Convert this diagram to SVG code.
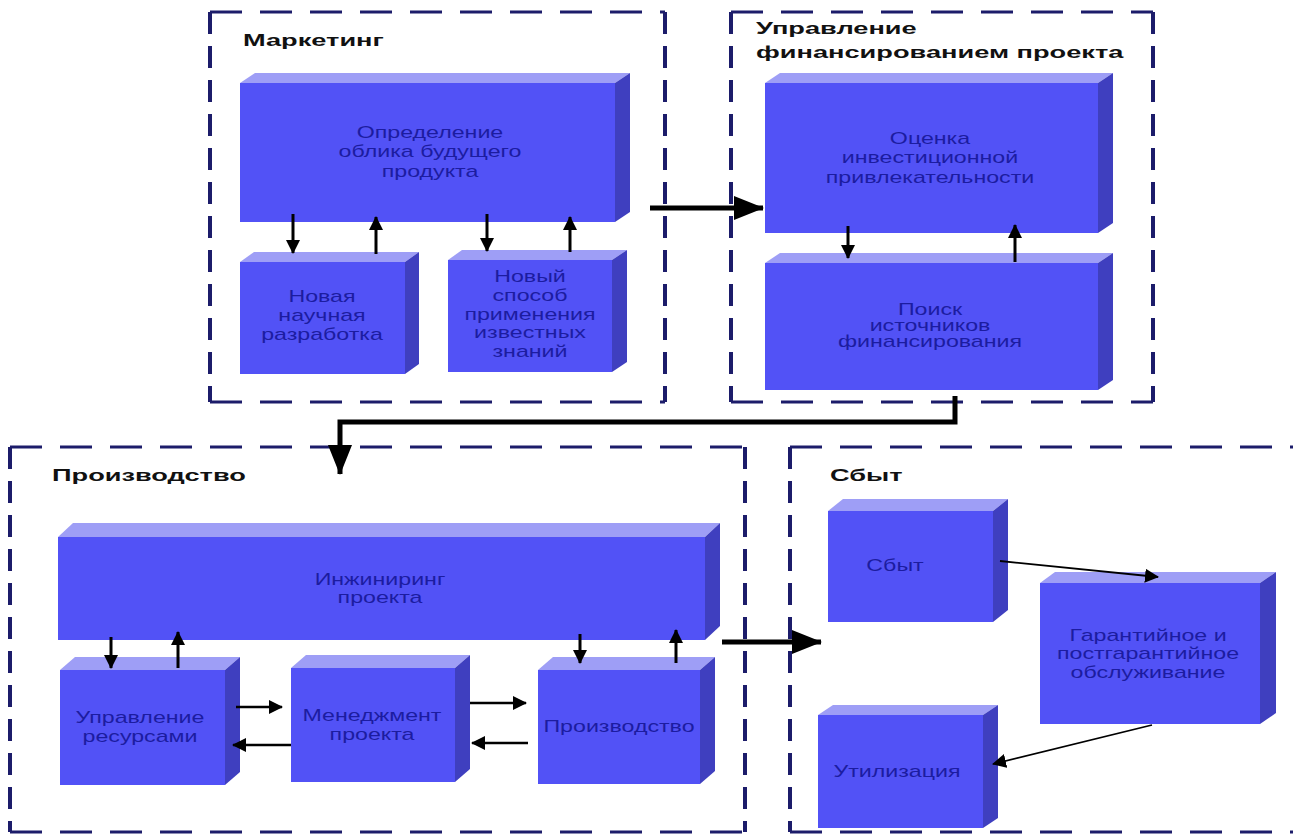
<svg xmlns="http://www.w3.org/2000/svg" width="1293" height="836" viewBox="0 0 1293 836">
<defs>
<marker id="sm" markerUnits="userSpaceOnUse" markerWidth="14" markerHeight="14" viewBox="0 0 14 14" refX="13" refY="7" orient="auto"><path d="M0,0 L14,7 L0,14 Z" fill="#000"/></marker>
<marker id="big" markerUnits="userSpaceOnUse" markerWidth="30" markerHeight="24" viewBox="0 0 30 24" refX="29" refY="12" orient="auto"><path d="M0,0 L30,12 L0,24 Z" fill="#000"/></marker>
<style>
.gh{fill:none;stroke:#1c1c6a;stroke-width:3;stroke-dasharray:32 18}
.gv{fill:none;stroke:#1c1c6a;stroke-width:4;stroke-dasharray:22 12}
.title{font-family:"Liberation Sans",Arial,sans-serif;font-weight:bold;font-size:17px;fill:#111}
.lbl{font-family:"Liberation Sans",Arial,sans-serif;font-size:16px;fill:#1c1ca0;text-anchor:middle}
.front{fill:#5252f6}
.top{fill:#9e9ef6}
.side{fill:#3f3fbf}
.a{stroke:#000;stroke-width:3;fill:none;marker-end:url(#sm)}
.ah{stroke:#000;stroke-width:2.5;fill:none;marker-end:url(#sm)}
.at{stroke:#000;stroke-width:1.8;fill:none;marker-end:url(#sm)}
.A{stroke:#000;stroke-width:5;fill:none;marker-end:url(#big)}
</style>
</defs>
<rect width="1293" height="836" fill="#fff"/>

<g id="grp-marketing">
<line class="gh" x1="210" y1="12" x2="665" y2="12"/>
<line class="gh" x1="210" y1="402" x2="665" y2="402"/>
<line class="gv" x1="210" y1="12" x2="210" y2="402"/>
<line class="gv" x1="665" y1="12" x2="665" y2="402"/>
<text class="title" transform="translate(243,46) scale(1.6,1)">Маркетинг</text>
</g>
<g id="grp-finance">
<line class="gh" x1="731" y1="12" x2="1153" y2="12"/>
<line class="gh" x1="731" y1="402" x2="1153" y2="402"/>
<line class="gv" x1="731" y1="12" x2="731" y2="402"/>
<line class="gv" x1="1153" y1="12" x2="1153" y2="402"/>
<text class="title" transform="translate(756,34) scale(1.6,1)">Управление</text>
<text class="title" transform="translate(756,58) scale(1.6,1)">финансированием проекта</text>
</g>
<g id="grp-production">
<line class="gh" x1="10" y1="447" x2="745" y2="447"/>
<line class="gh" x1="10" y1="832" x2="745" y2="832"/>
<line class="gv" x1="10" y1="447" x2="10" y2="832"/>
<line class="gv" x1="745" y1="447" x2="745" y2="832"/>
<text class="title" transform="translate(52,481) scale(1.6,1)">Производство</text>
</g>
<g id="grp-sales">
<line class="gh" x1="790" y1="447" x2="1293" y2="447"/>
<line class="gh" x1="790" y1="832" x2="1293" y2="832"/>
<line class="gv" x1="790" y1="447" x2="790" y2="832"/>
<text class="title" transform="translate(830,481) scale(1.6,1)">Сбыт</text>
</g>

<g id="n-opredelenie">
<polygon class="top" points="240,83 255,73 630,73 615,83"/>
<polygon class="side" points="615,83 630,73 630,212 615,222"/>
<rect class="front" x="240" y="83" width="375" height="139"/>
<text class="lbl" transform="translate(430,0) scale(1.45,1)"><tspan x="0" y="138">Определение</tspan><tspan x="0" y="157">облика будущего</tspan><tspan x="0" y="177">продукта</tspan></text>
</g>
<g id="n-novaya">
<polygon class="top" points="240,262 254,252 419,252 405,262"/>
<polygon class="side" points="405,262 419,252 419,364 405,374"/>
<rect class="front" x="240" y="262" width="165" height="112"/>
<text class="lbl" transform="translate(322,0) scale(1.45,1)"><tspan x="0" y="302">Новая</tspan><tspan x="0" y="321">научная</tspan><tspan x="0" y="340">разработка</tspan></text>
</g>
<g id="n-novyi">
<polygon class="top" points="448,260 462,250 627,250 612,260"/>
<polygon class="side" points="612,260 627,250 627,362 612,372"/>
<rect class="front" x="448" y="260" width="164" height="112"/>
<text class="lbl" transform="translate(530,0) scale(1.45,1)"><tspan x="0" y="282">Новый</tspan><tspan x="0" y="301">способ</tspan><tspan x="0" y="320">применения</tspan><tspan x="0" y="338">известных</tspan><tspan x="0" y="357">знаний</tspan></text>
</g>
<g id="n-ocenka">
<polygon class="top" points="765,83 780,73 1113,73 1098,83"/>
<polygon class="side" points="1098,83 1113,73 1113,223 1098,233"/>
<rect class="front" x="765" y="83" width="333" height="150"/>
<text class="lbl" transform="translate(930,0) scale(1.45,1)"><tspan x="0" y="144">Оценка</tspan><tspan x="0" y="163">инвестиционной</tspan><tspan x="0" y="183">привлекательности</tspan></text>
</g>
<g id="n-poisk">
<polygon class="top" points="765,263 780,253 1113,253 1098,263"/>
<polygon class="side" points="1098,263 1113,253 1113,380 1098,390"/>
<rect class="front" x="765" y="263" width="333" height="127"/>
<text class="lbl" transform="translate(930,0) scale(1.45,1)"><tspan x="0" y="315">Поиск</tspan><tspan x="0" y="331">источников</tspan><tspan x="0" y="347">финансирования</tspan></text>
</g>
<g id="n-inzhiniring">
<polygon class="top" points="58,537 73,523 720,523 705,537"/>
<polygon class="side" points="705,537 720,523 720,626 705,640"/>
<rect class="front" x="58" y="537" width="647" height="103"/>
<text class="lbl" transform="translate(380,0) scale(1.45,1)"><tspan x="0" y="585">Инжиниринг</tspan><tspan x="0" y="603">проекта</tspan></text>
</g>
<g id="n-upr-resursami">
<polygon class="top" points="60,670 75,657 240,657 225,670"/>
<polygon class="side" points="225,670 240,657 240,772 225,785"/>
<rect class="front" x="60" y="670" width="165" height="115"/>
<text class="lbl" transform="translate(140,0) scale(1.45,1)"><tspan x="0" y="723">Управление</tspan><tspan x="0" y="742">ресурсами</tspan></text>
</g>
<g id="n-menedzhment">
<polygon class="top" points="291,668 306,655 470,655 455,668"/>
<polygon class="side" points="455,668 470,655 470,769 455,782"/>
<rect class="front" x="291" y="668" width="164" height="114"/>
<text class="lbl" transform="translate(372,0) scale(1.45,1)"><tspan x="0" y="721">Менеджмент</tspan><tspan x="0" y="740">проекта</tspan></text>
</g>
<g id="n-proizvodstvo">
<polygon class="top" points="538,670 553,657 715,657 700,670"/>
<polygon class="side" points="700,670 715,657 715,771 700,784"/>
<rect class="front" x="538" y="670" width="162" height="114"/>
<text class="lbl" transform="translate(619,0) scale(1.45,1)" x="0" y="732">Производство</text>
</g>
<g id="n-sbyt">
<polygon class="top" points="828,511 843,499 1008,499 993,511"/>
<polygon class="side" points="993,511 1008,499 1008,610 993,622"/>
<rect class="front" x="828" y="511" width="165" height="111"/>
<text class="lbl" transform="translate(895,0) scale(1.45,1)" x="0" y="571">Сбыт</text>
</g>
<g id="n-garantiinoe">
<polygon class="top" points="1040,583 1055,572 1276,572 1260,583"/>
<polygon class="side" points="1260,583 1276,572 1276,713 1260,724"/>
<rect class="front" x="1040" y="583" width="220" height="141"/>
<text class="lbl" transform="translate(1148,0) scale(1.45,1)"><tspan x="0" y="641">Гарантийное и</tspan><tspan x="0" y="659">постгарантийное</tspan><tspan x="0" y="678">обслуживание</tspan></text>
</g>
<g id="n-utilizaciya">
<polygon class="top" points="818,715 833,705 998,705 983,715"/>
<polygon class="side" points="983,715 998,705 998,818 983,828"/>
<rect class="front" x="818" y="715" width="165" height="113"/>
<text class="lbl" transform="translate(897,0) scale(1.45,1)" x="0" y="777">Утилизация</text>
</g>

<g id="connectors">
<line class="a" x1="293" y1="214" x2="293" y2="253"/>
<line class="a" x1="376" y1="254" x2="376" y2="217"/>
<line class="a" x1="487" y1="214" x2="487" y2="251"/>
<line class="a" x1="570" y1="252" x2="570" y2="217"/>
<line class="a" x1="848" y1="226" x2="848" y2="258"/>
<line class="a" x1="1015" y1="262" x2="1015" y2="225"/>
<line class="a" x1="111" y1="637" x2="111" y2="668"/>
<line class="a" x1="178" y1="668" x2="178" y2="632"/>
<line class="a" x1="580" y1="634" x2="580" y2="663"/>
<line class="a" x1="676" y1="663" x2="676" y2="630"/>
<line class="ah" x1="236" y1="707" x2="282" y2="707"/>
<line class="ah" x1="291" y1="745" x2="233" y2="745"/>
<line class="ah" x1="470" y1="703" x2="526" y2="703"/>
<line class="ah" x1="528" y1="743" x2="472" y2="743"/>
<line class="at" x1="1000" y1="561" x2="1158" y2="577"/>
<line class="at" x1="1152" y1="725" x2="993" y2="764"/>
<line class="A" x1="650" y1="208" x2="763" y2="208"/>
<polyline class="A" points="955,396 955,422 340,422 340,474"/>
<line class="A" x1="722" y1="642" x2="821" y2="642"/>
</g>
</svg>
